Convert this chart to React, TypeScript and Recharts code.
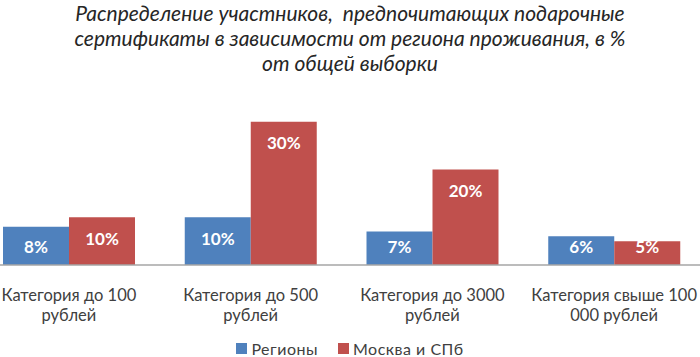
import React from 'react';
import { BarChart, Bar, XAxis, YAxis, LabelList } from 'recharts';

const titleLines = [
  'Распределение участников,  предпочитающих подарочные',
  'сертификаты в зависимости от региона проживания, в %',
  'от общей выборки',
];
const categories = ['Категория до 100 рублей', 'Категория до 500 рублей', 'Категория до 3000 рублей', 'Категория свыше 100 000 рублей'];
const categoryLines = [
  ['Категория до 100', 'рублей'],
  ['Категория до 500', 'рублей'],
  ['Категория до 3000', 'рублей'],
  ['Категория свыше 100', '000 рублей'],
];
const regions = [8, 10, 7, 6];
const moscow = [10, 30, 20, 5];
const seriesNames = ['Регионы', 'Москва и СПб'];
const seriesColors = ['#4F81BD', '#C0504D'];

const data = categories.map((c, i) => ({ name: c, idx: i, regions: regions[i], moscow: moscow[i] }));

const FONT = 'Lato, "Open Sans", sans-serif';

const Tick = (props: any) => {
  const { x, y, payload } = props;
  const lines = categoryLines[payload.index] || [payload.value];
  return (
    <g>
      {lines.map((l: string, i: number) => (
        <text key={i} x={x} y={y + 28 + i * 20} textAnchor="middle" fill="#404040" fontSize={16.5} fontFamily={FONT}>
          {l}
        </text>
      ))}
    </g>
  );
};

const ValLabel = (props: any) => {
  const { x, y, width, height, value } = props;
  const cy = Math.min(y + 21, y + height - 19);
  return (
    <text x={x + width / 2} y={cy} textAnchor="middle" dominantBaseline="central" fill="#FFFFFF" fontSize={17} fontWeight="bold" fontFamily={FONT}>
      {value + '%'}
    </text>
  );
};

export default function App() {
  return (
    <div style={{ position: 'absolute', left: 0, top: 0, width: 700, height: 357, overflow: 'hidden', background: '#fff', fontFamily: FONT }}>
      <div style={{ position: 'absolute', left: 0, top: 0, width: 700, textAlign: 'center', color: '#262626', fontStyle: 'italic', fontSize: 21, lineHeight: '25px' }}>
        {titleLines.map((t, i) => (
          <div key={i} style={{ whiteSpace: 'pre' }}>{t}</div>
        ))}
      </div>
      <div style={{ position: 'absolute', left: -22, top: 0 }}>
        <BarChart width={727} height={357} data={data} margin={{ top: 98, right: 0, bottom: 32, left: 0 }} barGap={0} barSize={66}>
          <XAxis dataKey="name" height={60} tick={<Tick />} tickLine={false} axisLine={{ stroke: '#A6A6A6', strokeWidth: 1.5 }} interval={0} />
          <YAxis hide domain={[0, 35]} />
          <Bar dataKey="regions" fill={seriesColors[0]} isAnimationActive={false}>
            <LabelList dataKey="regions" content={<ValLabel />} />
          </Bar>
          <Bar dataKey="moscow" fill={seriesColors[1]} isAnimationActive={false}>
            <LabelList dataKey="moscow" content={<ValLabel />} />
          </Bar>
        </BarChart>
      </div>
      <div style={{ position: 'absolute', left: 0, top: 339, width: 700, display: 'flex', justifyContent: 'center', gap: 20, color: '#404040', fontSize: 16 }}>
        {seriesNames.map((n, i) => (
          <div key={i} style={{ display: 'flex', alignItems: 'center' }}>
            <span style={{ display: 'inline-block', width: 11, height: 11, background: seriesColors[i], marginRight: 4 }} />
            <span style={{ letterSpacing: 0.5 }}>{n}</span>
          </div>
        ))}
      </div>
    </div>
  );
}
